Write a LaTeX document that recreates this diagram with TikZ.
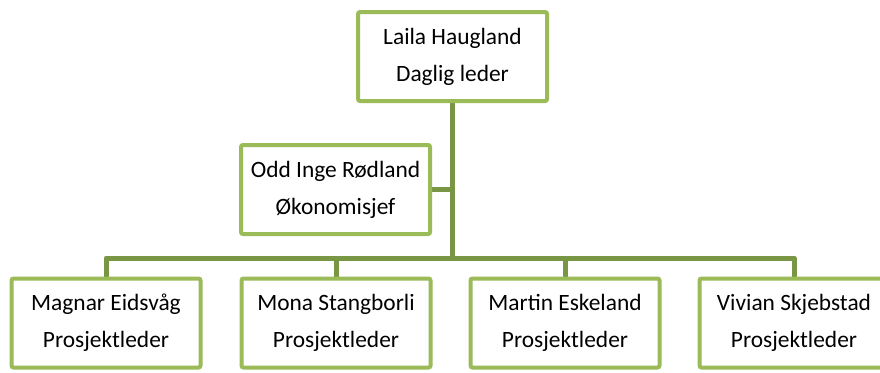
\documentclass[tikz,border=0pt]{standalone}
\usepackage{fontspec}
\setmainfont{Carlito}
\usetikzlibrary{backgrounds}
\definecolor{boxgreen}{RGB}{155,187,89}
\definecolor{linegreen}{RGB}{121,150,68}
\begin{document}
\begin{tikzpicture}[x=1pt,y=-1pt,
  person/.style={draw=boxgreen, line width=4pt, fill=white, rounded corners=2pt,
    minimum width=189pt, minimum height=89pt, inner sep=0pt, align=center,
    font=\fontsize{23.4}{37}\selectfont},
  conn/.style={draw=linegreen, line width=5pt, line join=round}]
\useasboundingbox (0,0) rectangle (880,372);
\clip (0,0) rectangle (880,372);
\coordinate (bus) at (452.5,258);
\node[person] (top) at (452.5,56.5) {Laila Haugland\\Daglig leder};
\node[person] (odd) at (335.5,189.5) {Odd Inge Rødland\\Økonomisjef};
\node[person] (b1) at (106,323) {Magnar Eidsvåg\\Prosjektleder};
\node[person] (b2) at (336,323) {Mona Stangborli\\Prosjektleder};
\node[person] (b3) at (565,323) {Martin Eskeland\\Prosjektleder};
\node[person] (b4) at (794,323) {Vivian Skjebstad\\Prosjektleder};
\begin{scope}[on background layer]
\fill[white] (0,0) rectangle (880,372);
\path[conn] (top.south) -- (bus);
\path[conn] (odd.east) -- (odd.east -| bus);
\path[conn] (b1.north) -- (b1.north |- bus) -- (b4.north |- bus) -- (b4.north);
\path[conn] (b2.north) -- (b2.north |- bus);
\path[conn] (b3.north) -- (b3.north |- bus);
\end{scope}
\end{tikzpicture}
\end{document}
